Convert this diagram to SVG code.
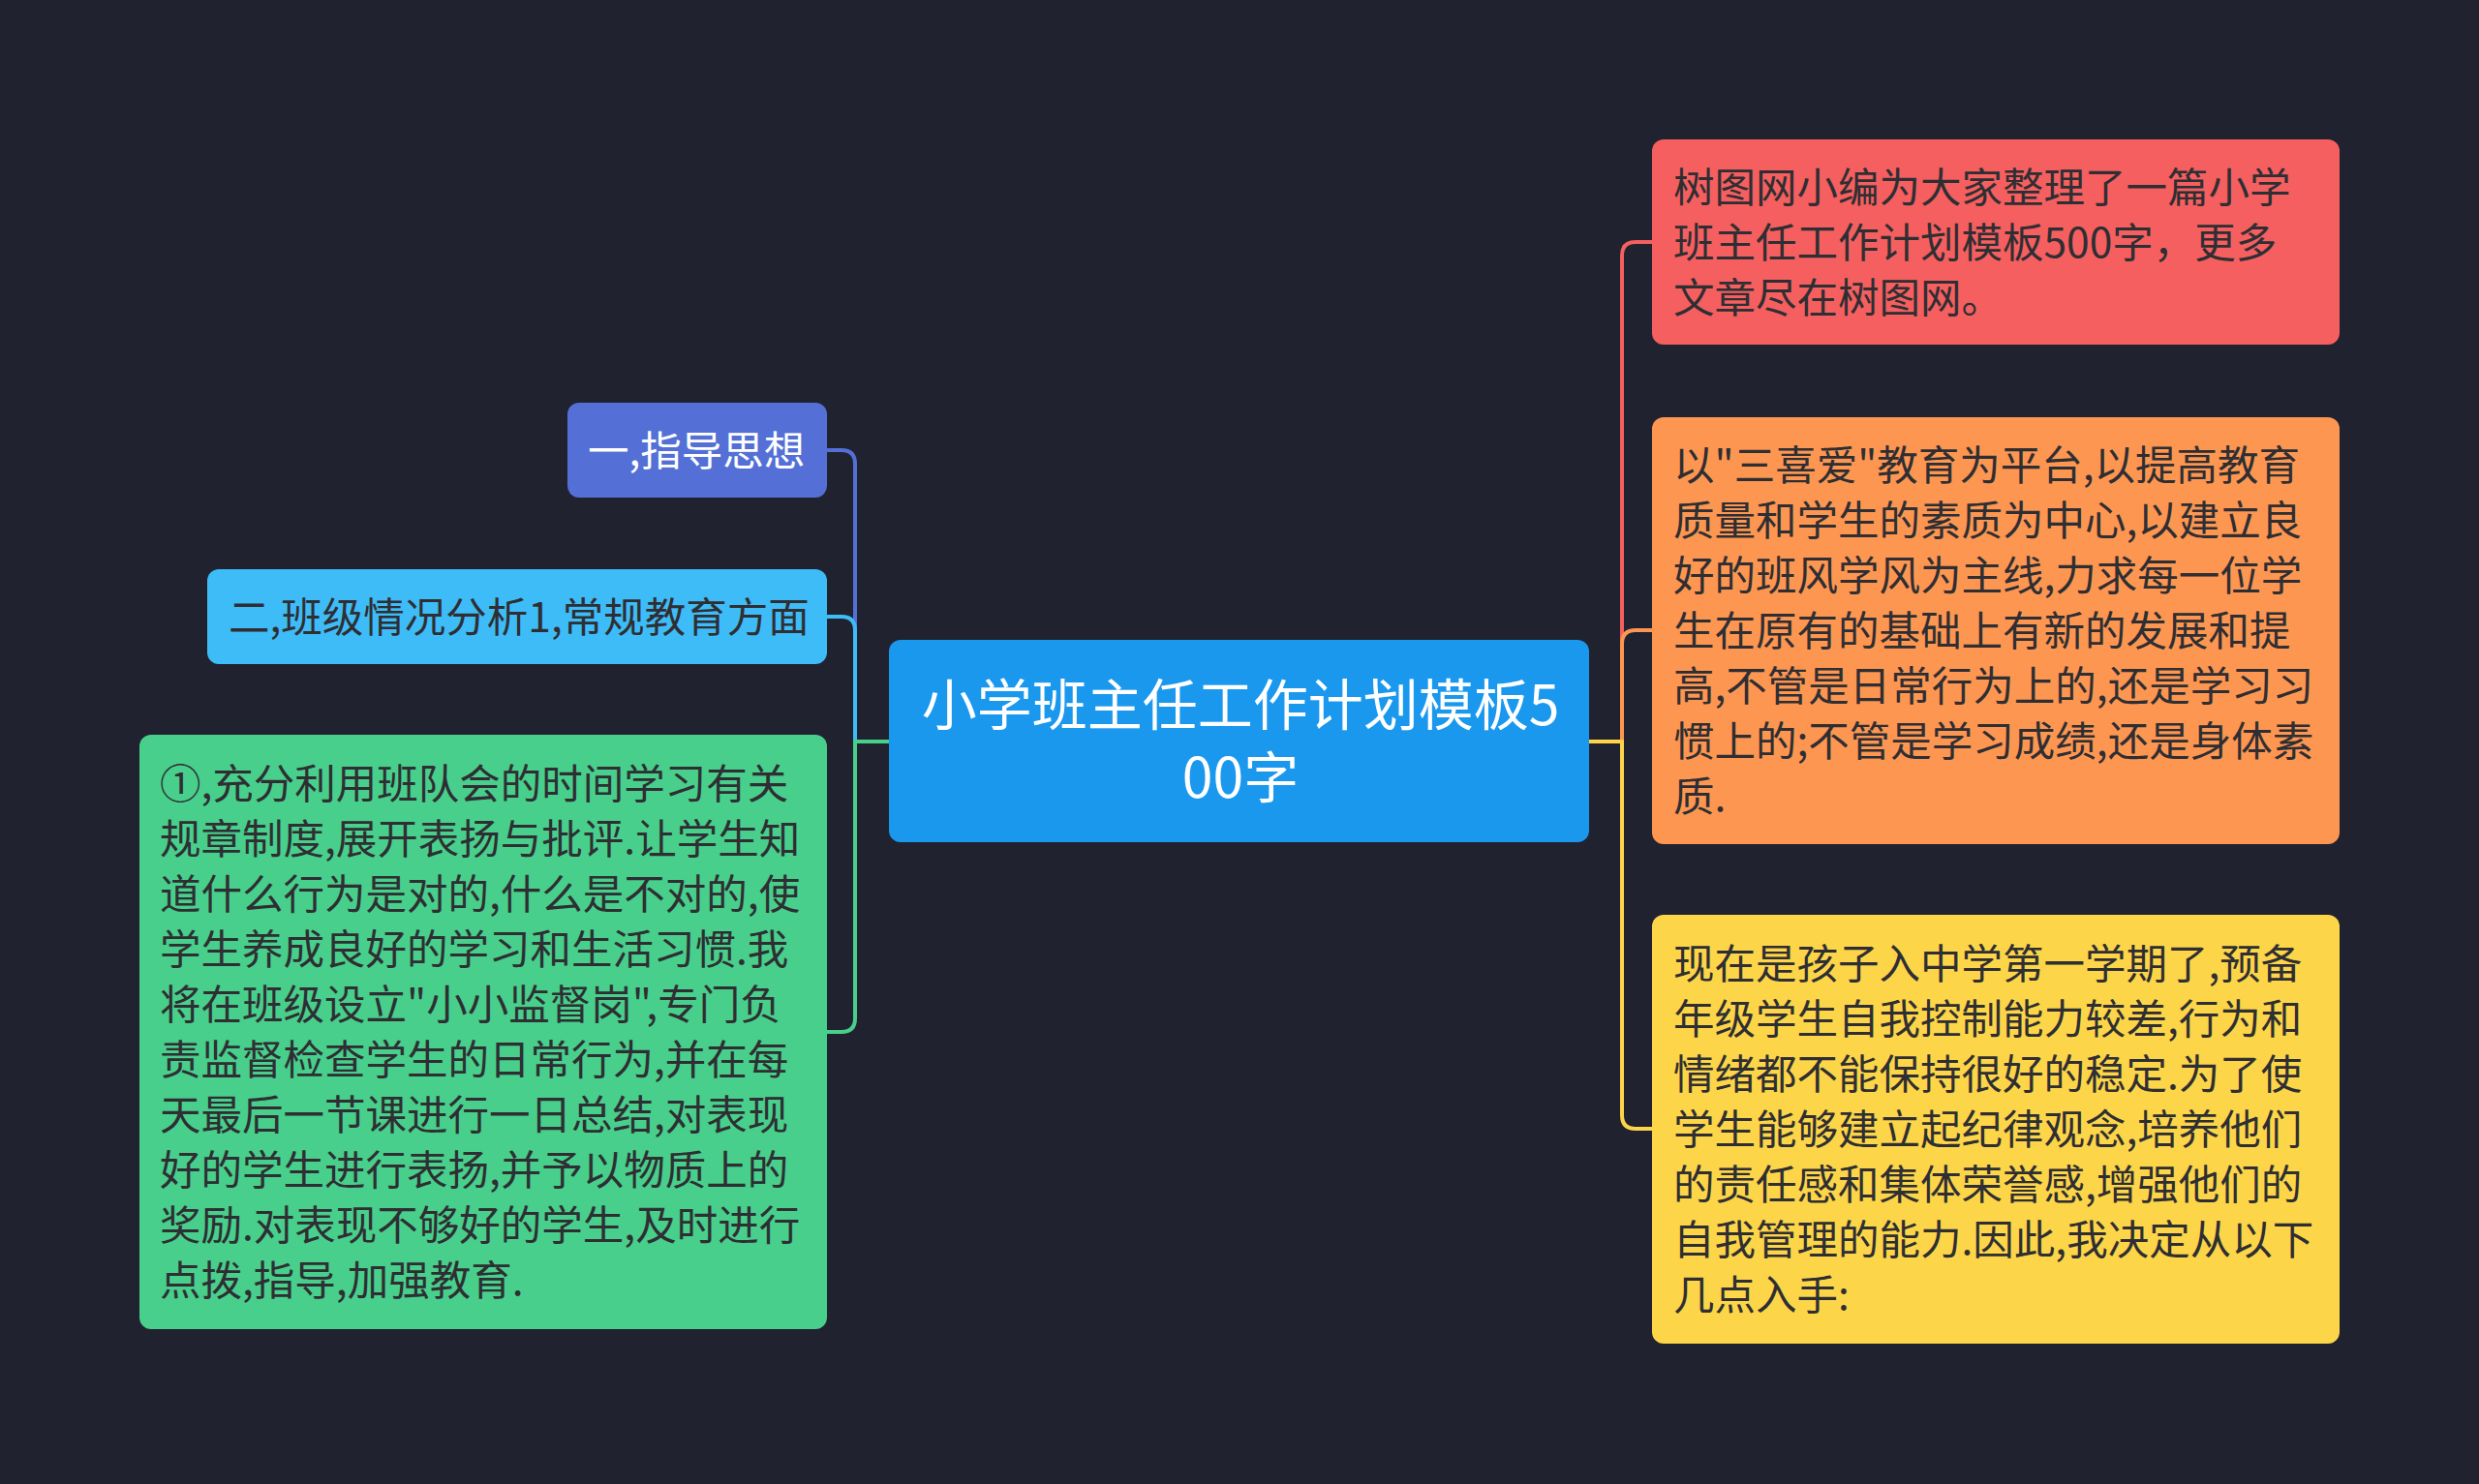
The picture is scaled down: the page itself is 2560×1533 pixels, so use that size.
<svg xmlns="http://www.w3.org/2000/svg" width="2560" height="1533" viewBox="0 0 2560 1533">
<style>
text{font-family:"Noto Sans CJK SC","Noto Sans",sans-serif;}
.t{font-size:42.5px;fill:#2e2e33;}
.w{font-size:42.5px;fill:#ffffff;}
.c{font-size:57px;fill:#ffffff;text-anchor:middle;}
.ln{fill:none;stroke-width:4;stroke-linecap:round;stroke-linejoin:round;}
</style>
<rect x="0" y="0" width="2560" height="1533" fill="#20232f"/>
<g id="connectors">
<path class="ln" stroke="#5470d6" d="M918,766 H883 V479 Q883,465 869,465 H854"/>
<path class="ln" stroke="#3ebcf7" d="M918,766 H883 V651 Q883,637 869,637 H854"/>
<path class="ln" stroke="#48cf8b" d="M918,766 H883 V1052 Q883,1066 869,1066 H854"/>
<path class="ln" stroke="#f55f5f" d="M1641,766 H1675 V264 Q1675,250 1689,250 H1706"/>
<path class="ln" stroke="#fd9651" d="M1641,766 H1675 V665 Q1675,651 1689,651 H1706"/>
<path class="ln" stroke="#fdd548" d="M1641,766 H1675 V1152 Q1675,1166 1689,1166 H1706"/>
</g>
<g id="center">
<rect x="918" y="661" width="723" height="209" rx="12" fill="#1a98ee"/>
<text class="c" x="1281" y="749">小学班主任工作计划模板5</text>
<text class="c" x="1281" y="824">00字</text>
</g>
<g id="n1">
<rect x="586" y="416" width="268" height="98" rx="12" fill="#5470d6"/>
<text class="w" x="607" y="481">一,指导思想</text>
</g>
<g id="n2">
<rect x="214" y="588" width="640" height="98" rx="12" fill="#3ebcf7"/>
<text class="t" x="236" y="653">二,班级情况分析1,常规教育方面</text>
</g>
<g id="n3">
<rect x="144" y="759" width="710" height="614" rx="12" fill="#48cf8b"/>
<text class="t" x="165" y="825">①,充分利用班队会的时间学习有关</text>
<text class="t" x="165" y="882">规章制度,展开表扬与批评.让学生知</text>
<text class="t" x="165" y="939">道什么行为是对的,什么是不对的,使</text>
<text class="t" x="165" y="996">学生养成良好的学习和生活习惯.我</text>
<text class="t" x="165" y="1053">将在班级设立"小小监督岗",专门负</text>
<text class="t" x="165" y="1110">责监督检查学生的日常行为,并在每</text>
<text class="t" x="165" y="1167">天最后一节课进行一日总结,对表现</text>
<text class="t" x="165" y="1224">好的学生进行表扬,并予以物质上的</text>
<text class="t" x="165" y="1281">奖励.对表现不够好的学生,及时进行</text>
<text class="t" x="165" y="1338">点拨,指导,加强教育.</text>
</g>
<g id="n4">
<rect x="1706" y="144" width="710" height="212" rx="12" fill="#f55f5f"/>
<text class="t" x="1728" y="209">树图网小编为大家整理了一篇小学</text>
<text class="t" x="1728" y="266">班主任工作计划模板500字，更多</text>
<text class="t" x="1728" y="323">文章尽在树图网。</text>
</g>
<g id="n5">
<rect x="1706" y="431" width="710" height="441" rx="12" fill="#fd9651"/>
<text class="t" x="1728" y="496">以"三喜爱"教育为平台,以提高教育</text>
<text class="t" x="1728" y="553">质量和学生的素质为中心,以建立良</text>
<text class="t" x="1728" y="610">好的班风学风为主线,力求每一位学</text>
<text class="t" x="1728" y="667">生在原有的基础上有新的发展和提</text>
<text class="t" x="1728" y="724">高,不管是日常行为上的,还是学习习</text>
<text class="t" x="1728" y="781">惯上的;不管是学习成绩,还是身体素</text>
<text class="t" x="1728" y="838">质.</text>
</g>
<g id="n6">
<rect x="1706" y="945" width="710" height="443" rx="12" fill="#fdd548"/>
<text class="t" x="1728" y="1011">现在是孩子入中学第一学期了,预备</text>
<text class="t" x="1728" y="1068">年级学生自我控制能力较差,行为和</text>
<text class="t" x="1728" y="1125">情绪都不能保持很好的稳定.为了使</text>
<text class="t" x="1728" y="1182">学生能够建立起纪律观念,培养他们</text>
<text class="t" x="1728" y="1239">的责任感和集体荣誉感,增强他们的</text>
<text class="t" x="1728" y="1296">自我管理的能力.因此,我决定从以下</text>
<text class="t" x="1728" y="1353">几点入手:</text>
</g>
</svg>
